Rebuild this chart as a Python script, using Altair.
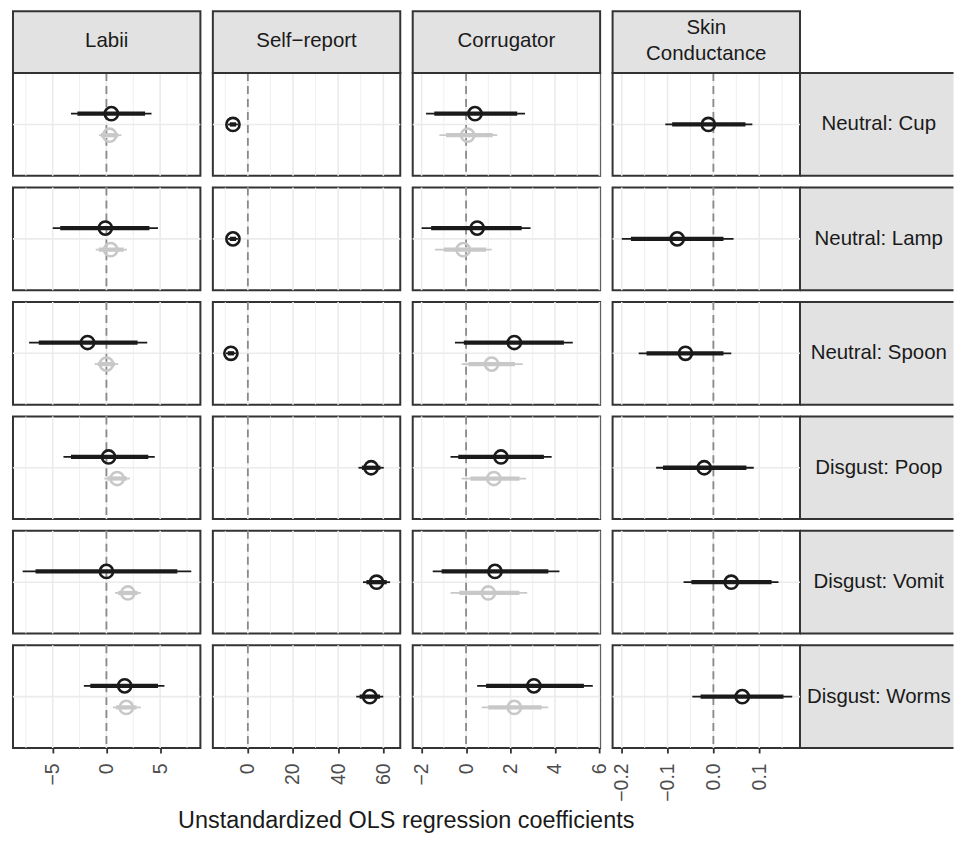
import altair as alt
import pandas as pd

FONT = "Liberation Sans"

measures = ["Labii", "Self-report", "Corrugator", "Skin Conductance"]
header_labels = ["Labii", "Self\u2212report", "Corrugator", "Skin\nConductance"]
stimuli = ["Neutral: Cup", "Neutral: Lamp", "Neutral: Spoon",
           "Disgust: Poop", "Disgust: Vomit", "Disgust: Worms"]
models = ["Model 1", "Model 2"]
axis_title = ["Unstandardized OLS regression coefficients"]

# ---- Labii ----
labii_m1_est = [0.46, -0.10, -1.76, 0.20, 0.00, 1.70]
labii_m1_lo_in = [-2.7, -4.3, -6.3, -3.3, -6.6, -1.5]
labii_m1_hi_in = [3.6, 4.0, 2.9, 3.9, 6.6, 4.8]
labii_m1_lo_out = [-3.3, -5.0, -7.2, -4.0, -7.8, -2.1]
labii_m1_hi_out = [4.2, 4.8, 3.8, 4.5, 7.9, 5.4]

labii_m2_est = [0.30, 0.40, 0.00, 1.00, 2.00, 1.85]
labii_m2_lo_in = [-0.5, -0.7, -0.8, 0.1, 1.1, 0.9]
labii_m2_hi_in = [1.1, 1.6, 0.8, 1.9, 2.9, 2.8]
labii_m2_lo_out = [-0.7, -1.0, -1.1, -0.2, 0.8, 0.6]
labii_m2_hi_out = [1.4, 1.9, 1.1, 2.2, 3.2, 3.2]

# ---- Self-report ----
self_m1_est = [-6.6, -6.6, -7.5, 54.6, 57.0, 54.0]
self_m1_lo_in = [-8.0, -8.0, -8.9, 50.5, 52.5, 49.5]
self_m1_hi_in = [-5.2, -5.2, -6.1, 58.7, 61.5, 58.5]
self_m1_lo_out = [-8.8, -8.8, -9.7, 49.0, 51.0, 48.0]
self_m1_hi_out = [-4.4, -4.4, -5.3, 60.2, 63.0, 60.0]

# ---- Corrugator ----
corr_m1_est = [0.40, 0.50, 2.17, 1.57, 1.30, 3.05]
corr_m1_lo_in = [-1.43, -1.57, -0.10, -0.35, -1.10, 0.90]
corr_m1_hi_in = [2.30, 2.50, 4.40, 3.50, 3.70, 5.30]
corr_m1_lo_out = [-1.80, -2.00, -0.50, -0.70, -1.50, 0.50]
corr_m1_hi_out = [2.65, 2.90, 4.80, 3.85, 4.20, 5.70]

corr_m2_est = [0.07, -0.13, 1.15, 1.25, 1.00, 2.17]
corr_m2_lo_in = [-0.90, -1.00, 0.10, 0.20, -0.30, 1.00]
corr_m2_hi_in = [1.20, 0.90, 2.20, 2.40, 2.40, 3.40]
corr_m2_lo_out = [-1.20, -1.40, -0.20, -0.20, -0.70, 0.70]
corr_m2_hi_out = [1.40, 1.15, 2.55, 2.70, 2.75, 3.70]

# ---- Skin Conductance ----
skin_m1_est = [-0.011, -0.079, -0.061, -0.020, 0.039, 0.063]
skin_m1_lo_in = [-0.090, -0.180, -0.146, -0.110, -0.048, -0.028]
skin_m1_hi_in = [0.070, 0.022, 0.022, 0.072, 0.127, 0.153]
skin_m1_lo_out = [-0.105, -0.200, -0.163, -0.125, -0.065, -0.046]
skin_m1_hi_out = [0.085, 0.044, 0.039, 0.088, 0.142, 0.172]

# axis breaks and limits per measure
labii_major = [-5, 0, 5]
labii_minor = [-7.5, -2.5, 2.5, 7.5]
self_major = [0, 20, 40, 60]
self_minor = [-10, 10, 30, 50]
corr_major = [-2, 0, 2, 4, 6]
corr_minor = [-1, 1, 3, 5]
skin_major = [-0.2, -0.1, 0.0, 0.1]
skin_minor = [-0.15, -0.05, 0.05, 0.15]

labii_limits = [-8.7, 8.75]
self_limits = [-15.5, 67.5]
corr_limits = [-2.4, 6.03]
skin_limits = [-0.22, 0.189]

reference_value = [0]

# ---------------------------------------------------------------
series = [
    ("Labii", "Model 1", labii_m1_est, labii_m1_lo_in, labii_m1_hi_in, labii_m1_lo_out, labii_m1_hi_out),
    ("Labii", "Model 2", labii_m2_est, labii_m2_lo_in, labii_m2_hi_in, labii_m2_lo_out, labii_m2_hi_out),
    ("Self-report", "Model 1", self_m1_est, self_m1_lo_in, self_m1_hi_in, self_m1_lo_out, self_m1_hi_out),
    ("Corrugator", "Model 1", corr_m1_est, corr_m1_lo_in, corr_m1_hi_in, corr_m1_lo_out, corr_m1_hi_out),
    ("Corrugator", "Model 2", corr_m2_est, corr_m2_lo_in, corr_m2_hi_in, corr_m2_lo_out, corr_m2_hi_out),
    ("Skin Conductance", "Model 1", skin_m1_est, skin_m1_lo_in, skin_m1_hi_in, skin_m1_lo_out, skin_m1_hi_out),
]
recs = []
for meas, mod, est, loi, hii, loo, hio in series:
    for k, stim in enumerate(stimuli):
        recs.append(dict(measure=meas, model=mod, stimulus=stim, est=est[k],
                         lo_in=loi[k], hi_in=hii[k], lo_out=loo[k], hi_out=hio[k]))
coef_df = pd.DataFrame(recs)

majors = {"Labii": labii_major, "Self-report": self_major,
          "Corrugator": corr_major, "Skin Conductance": skin_major}
minors = {"Labii": labii_minor, "Self-report": self_minor,
          "Corrugator": corr_minor, "Skin Conductance": skin_minor}
limits = {"Labii": labii_limits, "Self-report": self_limits,
          "Corrugator": corr_limits, "Skin Conductance": skin_limits}
formats = {"Labii": "d", "Self-report": "d", "Corrugator": "d", "Skin Conductance": ".1f"}

grid_recs = []
for m in measures:
    for v in majors[m]:
        grid_recs.append(dict(measure=m, kind="major", value=v))
    for v in minors[m]:
        grid_recs.append(dict(measure=m, kind="minor", value=v))
grid_df = pd.DataFrame(grid_recs)
ref_df = pd.DataFrame({"ref": reference_value})

hdr_recs = []
for m, lbl in zip(measures, header_labels):
    parts = lbl.split("\n")
    for k, part in enumerate(parts):
        hdr_recs.append(dict(measure=m, line=k, nlines=len(parts), text=part))
header_df = pd.DataFrame(hdr_recs)
strip_df = pd.DataFrame({"stimulus": stimuli})
title_df = pd.DataFrame({"title": axis_title})

PW, PH = 188, 103
SW = 154
HSP = 12.5
VSP = 11.8
HH = 62
LH = 26
STRIP_FILL = "#E2E2E2"
BORDER = "#333333"

color_scale = alt.Scale(domain=models, range=["#1A1A1A", "#C8C8C8"])
y_scale = alt.Scale(domain=[-1, 1], nice=False, zero=False)


def panel(m, stim, top, bottom, right, title_here):
    xs = alt.Scale(domain=limits[m], nice=False, zero=False)
    if bottom:
        xa = alt.Axis(values=majors[m], format=formats[m], labelAngle=270, grid=False,
                      domain=False, ticks=True, tickSize=5, tickWidth=1.8,
                      tickColor=BORDER, labelColor="#4D4D4D", labelFontSize=19.5,
                      labelFont=FONT, labelPadding=10, labelFlush=False,
                      labelOverlap=False, labelBound=False)
    else:
        xa = None
    two = coef_df[coef_df.measure == m].model.nunique() > 1
    ycalc = "datum.model === 'Model 1' ? 0.21 : -0.21" if two else "0"

    g = alt.Chart(grid_df).transform_filter(alt.datum.measure == m)
    minor = g.transform_filter(alt.datum.kind == "minor").mark_rule(
        color="#EDEDED", strokeWidth=0.9).encode(
        x=alt.X("value:Q", scale=xs, axis=xa, title=None))
    major = g.transform_filter(alt.datum.kind == "major").mark_rule(
        color="#EBEBEB", strokeWidth=1.6).encode(
        x=alt.X("value:Q", scale=xs, axis=xa, title=None))
    hgrid = alt.Chart(ref_df).mark_rule(color="#EBEBEB", strokeWidth=1.6).encode(
        y=alt.Y("ref:Q", scale=y_scale, axis=None))
    zero = alt.Chart(ref_df).mark_rule(color="#8A8A8A", strokeWidth=1.8,
                                       strokeDash=[8, 5]).encode(
        x=alt.X("ref:Q", scale=xs, axis=xa, title=None))

    d = alt.Chart(coef_df).transform_filter(
        (alt.datum.measure == m) & (alt.datum.stimulus == stim)
    ).transform_calculate(ypos=ycalc)
    col = alt.Color("model:N", scale=color_scale, legend=None)
    thin = d.mark_rule(strokeWidth=1.8).encode(
        x=alt.X("lo_out:Q", scale=xs, axis=xa, title=None), x2="hi_out:Q",
        y=alt.Y("ypos:Q", scale=y_scale, axis=None), color=col)
    thick = d.mark_rule(strokeWidth=4.3).encode(
        x=alt.X("lo_in:Q", scale=xs, axis=xa, title=None), x2="hi_in:Q",
        y=alt.Y("ypos:Q", scale=y_scale, axis=None), color=col)
    pts = d.mark_point(filled=False, size=175, strokeWidth=2.6, opacity=1).encode(
        x=alt.X("est:Q", scale=xs, axis=xa, title=None),
        y=alt.Y("ypos:Q", scale=y_scale, axis=None), color=col)
    layers = [minor, major, hgrid, zero, thin, thick, pts]

    if top:
        h = alt.Chart(header_df).transform_filter(alt.datum.measure == m)
        layers.append(h.transform_filter(alt.datum.line == 0).mark_rect(
            fill=STRIP_FILL, stroke=BORDER, strokeWidth=2).encode(
            x=alt.value(0), x2=alt.value(PW), y=alt.value(-HH), y2=alt.value(0)))
        n = int(header_df[header_df.measure == m].nlines.iloc[0])
        for k in range(n):
            layers.append(h.transform_filter(alt.datum.line == k).mark_text(
                font=FONT, fontSize=20.5, color="#1A1A1A", align="center",
                baseline="middle").encode(
                text="text:N", x=alt.value(PW / 2),
                y=alt.value(-HH / 2 - 1 + (k - (n - 1) / 2) * LH)))
    if right:
        s = alt.Chart(strip_df).transform_filter(alt.datum.stimulus == stim)
        layers.append(s.mark_rect(fill=STRIP_FILL).encode(
            x=alt.value(PW + 1), x2=alt.value(PW + SW), y=alt.value(0), y2=alt.value(PH)))
        layers.append(s.mark_rule(color=BORDER, strokeWidth=2).encode(
            x=alt.value(PW), x2=alt.value(PW + SW), y=alt.value(0)))
        layers.append(s.mark_rule(color=BORDER, strokeWidth=2).encode(
            x=alt.value(PW), x2=alt.value(PW + SW), y=alt.value(PH)))
        layers.append(s.mark_text(font=FONT, fontSize=20.5, color="#1A1A1A",
                                  align="center", baseline="middle").encode(
            text="stimulus:N", x=alt.value(PW + 79), y=alt.value(PH / 2)))
    if title_here:
        layers.append(alt.Chart(title_df).mark_text(
            font=FONT, fontSize=23.5, color="#1A1A1A", align="center",
            baseline="alphabetic").encode(
            text="title:N", x=alt.value(PW + 6), y=alt.value(PH + 80)))
    return alt.layer(*layers).properties(width=PW, height=PH)


cells = []
for i, stim in enumerate(stimuli):
    for j, m in enumerate(measures):
        last = i == len(stimuli) - 1
        cells.append(panel(m, stim, top=(i == 0), bottom=last,
                           right=(j == len(measures) - 1),
                           title_here=(last and j == 1)))

chart = alt.concat(*cells, columns=4, spacing={"row": VSP, "column": HSP},
                   bounds="flush").properties(
    padding={"left": 3, "top": 0, "right": 0, "bottom": 0},
    background="white",
).configure_view(stroke=BORDER, strokeWidth=2)

chart.save("out.html", embed_options={"renderer": "svg", "actions": False})
